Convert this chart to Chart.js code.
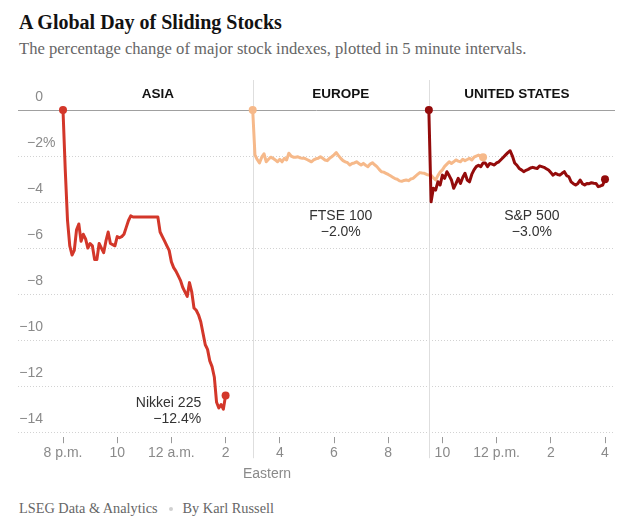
<!DOCTYPE html>
<html>
<head>
<meta charset="utf-8">
<script src="https://cdn.jsdelivr.net/npm/chart.js@4.4.1/dist/chart.umd.min.js"></script>
<style>
  body { margin: 0; background: #fff; }
  #wrap { position: relative; width: 628px; height: 523px; overflow: hidden; }
  .title { position: absolute; left: 19px; top: 12px; font: bold 20px/20px "Liberation Serif", serif; color: #121212; }
  .subtitle { position: absolute; left: 19px; top: 40px; font: 16.6px/18px "Liberation Serif", serif; color: #666; }
  .footer { position: absolute; left: 19px; top: 499px; font: 14.3px/18px "Liberation Serif", serif; color: #666; }
  .footer .dot { display: inline-block; width: 4px; height: 4px; border-radius: 2px; background: #d0d0d0; margin: 0 10px 2px 11px; vertical-align: middle; }
  canvas { position: absolute; left: 0; top: 70px; }
</style>
</head>
<body>
<div id="wrap">
  <div class="title">A Global Day of Sliding Stocks</div>
  <div class="subtitle">The percentage change of major stock indexes, plotted in 5 minute intervals.</div>
  <canvas id="chart" width="628" height="420"></canvas>
  <div class="footer">LSEG Data &amp; Analytics<span class="dot"></span>By Karl Russell</div>
</div>
<script>
// x values are hours after 8 p.m. Eastern, one point every 5 minutes
var stepHours = 5 / 60;

var hourTicks = [0, 2, 4, 6, 8, 10, 12, 14, 16, 18, 20];
var hourLabels = ['8 p.m.', '10', '12 a.m.', '2', '4', '6', '8', '10', '12 p.m.', '2', '4'];

var yTicks = [0, -2, -4, -6, -8, -10, -12, -14];
var yTickLabels = ['0', '\u22122%', '\u22124', '\u22126', '\u22128', '\u221210', '\u221212', '\u221214'];

var regions = ['ASIA', 'EUROPE', 'UNITED STATES'];
var regionBounds = [0, 7, 13.5, 20]; // market opens: Tokyo, London, New York; NY close

var nikkeiStart = 0;
var nikkeiValues = [
  0, -2.6, -4.8, -5.9, -6.3, -6.1, -5.2, -4.95, -5.7, -5.4,
  -5.6, -6.0, -5.8, -5.9, -6.5, -6.5, -5.8, -6.0, -6.2, -5.7,
  -5.3, -5.8, -5.85, -5.9, -5.5, -5.55, -5.5, -5.4, -5.1, -4.8,
  -4.6, -4.65, -4.65, -4.65, -4.65, -4.65, -4.65, -4.65, -4.65, -4.65,
  -4.65, -4.65, -4.65, -5.3, -5.5, -5.7, -5.9, -6.1, -6.6, -6.85,
  -7.0, -7.2, -7.4, -7.7, -7.9, -8.1, -7.5, -7.9, -8.6, -8.7,
  -8.9, -9.2, -9.7, -10.2, -10.4, -10.9, -11.15, -11.6, -12.7, -12.95,
  -12.8, -13.0, -12.4
];

var ftseStart = 7;
var ftseValues = [
  0, -1.95, -2.15, -2.3, -2.05, -1.9, -2.25, -2.14, -2.05, -2.1,
  -2.17, -2.25, -2.14, -2.25, -2.1, -2.17, -1.88, -2.0, -2.05, -2.05,
  -2.03, -2.08, -2.1, -2.1, -2.15, -2.2, -2.25, -2.17, -2.12, -2.1,
  -2.03, -2.1, -2.17, -2.2, -2.1, -2.03, -1.95, -1.85, -1.98, -2.1,
  -2.2, -2.25, -2.29, -2.39, -2.32, -2.3, -2.25, -2.32, -2.39, -2.32,
  -2.4, -2.46, -2.35, -2.29, -2.38, -2.46, -2.58, -2.68, -2.7, -2.75,
  -2.8, -2.86, -2.92, -2.98, -3.01, -3.08, -3.1, -3.06, -3.04, -3.07,
  -3.0, -2.97, -2.88, -2.8, -2.72, -2.74, -2.75, -2.8, -2.83, -2.83,
  -2.95, -3.04, -2.85, -2.7, -2.6, -2.45, -2.35, -2.25, -2.32, -2.25,
  -2.17, -2.22, -2.25, -2.14, -2.2, -2.15, -2.1, -2.17, -2.05, -2.0,
  -1.96, -2.0, -2.05
];

var spxStart = 13.5;
var spxValues = [
  0, -3.99, -3.4, -3.48, -3.12, -3.26, -2.83, -2.97, -2.68, -2.85,
  -3.04, -3.4, -3.2, -2.97, -3.19, -2.93, -2.75, -3.04, -3.12, -2.8,
  -2.6, -2.46, -2.4, -2.46, -2.3, -2.3, -2.46, -2.32, -2.35, -2.39,
  -2.3, -2.25, -2.15, -2.05, -1.95, -1.85, -1.77, -2.0, -2.3, -2.4,
  -2.54, -2.6, -2.68, -2.62, -2.58, -2.52, -2.49, -2.52, -2.54, -2.43,
  -2.46, -2.49, -2.55, -2.61, -2.72, -2.83, -2.75, -2.8, -2.83, -2.75,
  -2.68, -2.85, -2.9, -3.12, -3.2, -3.26, -3.19, -3.04, -3.2, -3.26,
  -3.19, -3.2, -3.16, -3.18, -3.19, -3.33, -3.3, -3.26, -3.01
];

var seriesLabels = [
  { name: 'Nikkei 225', change: '\u221212.4%', x: 5.1, y: -12.75, align: 'right' },
  { name: 'FTSE 100', change: '\u22122.0%', x: 10.25, y: -4.6, align: 'center' },
  { name: 'S&P 500', change: '\u22123.0%', x: 17.3, y: -4.6, align: 'center' }
];

function toPoints(start, values) {
  return values.map(function(v, i) { return { x: start + i * stepHours, y: v }; });
}

function endDots(r) {
  return function(ctx) {
    var n = ctx.dataset.data.length;
    return (ctx.dataIndex === 0 || ctx.dataIndex === n - 1) ? r : 0;
  };
}

function lineSet(label, color, start, values) {
  return {
    label: label,
    data: toPoints(start, values),
    borderColor: color,
    backgroundColor: color,
    borderWidth: 3,
    borderJoinStyle: 'round',
    borderCapStyle: 'round',
    pointRadius: endDots(4),
    pointBorderWidth: 0,
    pointBackgroundColor: color,
    tension: 0
  };
}

var decor = {
  id: 'decor',
  beforeDatasetsDraw: function(chart) {
    var c = chart.ctx, a = chart.chartArea;
    var xs = chart.scales.x, ys = chart.scales.y;
    c.save();
    // region dividers
    c.strokeStyle = '#dedede';
    c.lineWidth = 1;
    [regionBounds[1], regionBounds[2]].forEach(function(t) {
      var px = Math.round(xs.getPixelForValue(t)) + 0.5;
      c.beginPath();
      c.moveTo(px, a.top);
      c.lineTo(px, a.bottom + 21);
      c.stroke();
    });
    // zero line
    var y0 = Math.round(ys.getPixelForValue(0)) + 0.5;
    c.strokeStyle = '#a0a0a0';
    c.beginPath();
    c.moveTo(a.left, y0);
    c.lineTo(a.right, y0);
    c.stroke();
    c.restore();
  },
  afterDraw: function(chart) {
    var c = chart.ctx;
    var xs = chart.scales.x, ys = chart.scales.y;
    c.save();
    // y labels, sitting above their gridlines
    c.font = '14px "Liberation Sans", Arial, sans-serif';
    c.fillStyle = '#8a8a8a';
    c.textBaseline = 'middle';
    yTicks.forEach(function(v, i) {
      var py = ys.getPixelForValue(v) - 13;
      var txt = yTickLabels[i];
      c.textAlign = 'right';
      if (txt.slice(-1) === '%') {
        c.fillText(txt.slice(0, -1), 43, py);
        c.textAlign = 'left';
        c.fillText('%', 43, py);
      } else {
        c.fillText(txt, 43, py);
      }
    });
    // axis note
    c.textAlign = 'center';
    c.fillText('Eastern', 267, ys.getPixelForValue(-14) + 42);
    // region headers
    c.font = 'bold 13.5px "Liberation Sans Narrow", "Liberation Sans", sans-serif';
    c.fillStyle = '#121212';
    for (var i = 0; i < regions.length; i++) {
      var mid = (regionBounds[i] + regionBounds[i + 1]) / 2;
      c.fillText(regions[i], xs.getPixelForValue(mid), ys.getPixelForValue(0) - 16);
    }
    // series labels
    c.font = '14px "Liberation Sans", Arial, sans-serif';
    c.fillStyle = '#333';
    seriesLabels.forEach(function(s) {
      var px = xs.getPixelForValue(s.x), py = ys.getPixelForValue(s.y);
      c.textAlign = s.align;
      c.fillText(s.name, px, py);
      c.fillText(s.change, px, py + 16);
    });
    c.restore();
  }
};

new Chart(document.getElementById('chart').getContext('2d'), {
  type: 'line',
  data: {
    datasets: [
      lineSet('S&P 500', '#940b0b', spxStart, spxValues),
      lineSet('FTSE 100', '#f6b98a', ftseStart, ftseValues),
      lineSet('Nikkei 225', '#d3372a', nikkeiStart, nikkeiValues)
    ]
  },
  options: {
    responsive: false,
    animation: false,
    events: [],
    layout: { padding: { top: 10, left: 18, right: 13, bottom: 26 } },
    plugins: { legend: { display: false }, tooltip: { enabled: false } },
    scales: {
      x: {
        type: 'linear',
        min: (18 - 63) / 27.1,
        max: (615 - 63) / 27.1,
        afterBuildTicks: function(scale) {
          scale.ticks = hourTicks.map(function(v) { return { value: v }; });
        },
        ticks: {
          padding: 2,
          color: '#8a8a8a',
          font: { family: '"Liberation Sans", Arial, sans-serif', size: 14 },
          maxRotation: 0,
          autoSkip: false,
          callback: function(value) {
            var i = hourTicks.indexOf(value);
            return i >= 0 ? hourLabels[i] : '';
          }
        },
        grid: { drawOnChartArea: false, drawTicks: true, tickLength: 6, tickColor: '#999', tickWidth: 1 },
        border: { display: false }
      },
      y: {
        min: -14 - 5 / 23,
        max: 30 / 23,
        afterBuildTicks: function(scale) {
          scale.ticks = yTicks.map(function(v) { return { value: v }; });
        },
        ticks: { display: false },
        grid: {
          drawTicks: false,
          color: function(ctx) { return ctx.tick && ctx.tick.value === 0 ? 'rgba(0,0,0,0)' : '#d2d2d2'; },
          lineWidth: 1
        },
        border: { display: false, dash: [1, 2] }
      }
    }
  },
  plugins: [decor]
});
</script>
</body>
</html>
